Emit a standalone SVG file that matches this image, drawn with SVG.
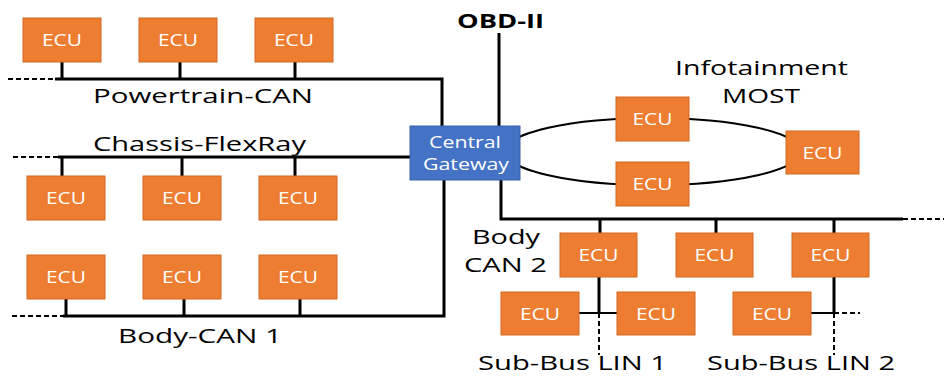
<svg xmlns="http://www.w3.org/2000/svg" width="944" height="376" viewBox="0 0 944 376">
<style>
.ecu rect{fill:#ED7D31;stroke:#D2691E;stroke-width:1}
.ecu text{fill:#ffffff;font-family:"Open Sans","Liberation Sans",sans-serif;font-size:16px;text-anchor:middle}
.lbl{fill:#000;font-family:"Open Sans","Liberation Sans",sans-serif;font-size:20px}
.bus{stroke:#000;stroke-width:3;fill:none}
.thin{stroke:#000;stroke-width:2;fill:none}
.dash{stroke:#000;stroke-width:2;fill:none;stroke-dasharray:5,3}
</style>
<rect width="944" height="376" fill="#fff"/>
<g id="connectors">
<!-- Powertrain-CAN -->
<path class="dash" d="M8 79H55"/>
<path class="bus" d="M55 79H442V126"/>
<path class="bus" d="M62 62V79M180 62V79M295 62V79"/>
<!-- Chassis-FlexRay -->
<path class="dash" d="M13 157H58"/>
<path class="bus" d="M58 157H411"/>
<path class="bus" d="M62 157V176M182 157V176M295 157V176"/>
<!-- Body-CAN 1 -->
<path class="dash" d="M12 316H63"/>
<path class="bus" d="M63 316H444V180"/>
<path class="bus" d="M66 299V316M184 299V316M300 299V316"/>
<!-- OBD-II -->
<path class="bus" d="M499 33V126"/>
<!-- MOST ring -->
<ellipse class="thin" cx="653" cy="151.5" rx="148" ry="33.5"/>
<!-- Body CAN 2 -->
<path class="bus" d="M501 180V219H903"/>
<path class="dash" d="M903 219H944"/>
<path class="bus" d="M600 219V233M716 219V233M834 219V233"/>
<!-- LIN 1 -->
<path class="bus" d="M599 277V313"/>
<path class="dash" d="M599 313V355"/>
<path class="thin" d="M579 313H617"/>
<!-- LIN 2 -->
<path class="bus" d="M834 277V313"/>
<path class="dash" d="M834 313V355"/>
<path class="thin" d="M811 313H834"/>
<path class="dash" d="M834 313H860"/>
</g>
<g id="gateway">
<rect x="410" y="126" width="110" height="54" fill="#4472C4" stroke="#3A62A8" stroke-width="1"/>
<text x="465" y="148" fill="#fff" font-family="'Open Sans','Liberation Sans',sans-serif" font-size="17" text-anchor="middle" textLength="72" lengthAdjust="spacingAndGlyphs">Central</text>
<text x="466" y="170" fill="#fff" font-family="'Open Sans','Liberation Sans',sans-serif" font-size="17" text-anchor="middle" textLength="86" lengthAdjust="spacingAndGlyphs">Gateway</text>
</g>
<g id="pt-ecu1" class="ecu"><rect x="23" y="18" width="78" height="44"/><text x="62" y="46" textLength="40" lengthAdjust="spacingAndGlyphs">ECU</text></g>
<g id="pt-ecu2" class="ecu"><rect x="139" y="18" width="78" height="44"/><text x="178" y="46" textLength="40" lengthAdjust="spacingAndGlyphs">ECU</text></g>
<g id="pt-ecu3" class="ecu"><rect x="255" y="18" width="78" height="44"/><text x="294" y="46" textLength="40" lengthAdjust="spacingAndGlyphs">ECU</text></g>
<g id="ch-ecu1" class="ecu"><rect x="27" y="176" width="78" height="44"/><text x="66" y="204" textLength="40" lengthAdjust="spacingAndGlyphs">ECU</text></g>
<g id="ch-ecu2" class="ecu"><rect x="143" y="176" width="78" height="44"/><text x="182" y="204" textLength="40" lengthAdjust="spacingAndGlyphs">ECU</text></g>
<g id="ch-ecu3" class="ecu"><rect x="259" y="176" width="78" height="44"/><text x="298" y="204" textLength="40" lengthAdjust="spacingAndGlyphs">ECU</text></g>
<g id="b1-ecu1" class="ecu"><rect x="27" y="255" width="78" height="44"/><text x="66" y="283" textLength="40" lengthAdjust="spacingAndGlyphs">ECU</text></g>
<g id="b1-ecu2" class="ecu"><rect x="143" y="255" width="78" height="44"/><text x="182" y="283" textLength="40" lengthAdjust="spacingAndGlyphs">ECU</text></g>
<g id="b1-ecu3" class="ecu"><rect x="259" y="255" width="78" height="44"/><text x="298" y="283" textLength="40" lengthAdjust="spacingAndGlyphs">ECU</text></g>
<g id="most-ecu1" class="ecu"><rect x="616" y="97" width="73" height="44"/><text x="652.5" y="125" textLength="40" lengthAdjust="spacingAndGlyphs">ECU</text></g>
<g id="most-ecu2" class="ecu"><rect x="616" y="162" width="73" height="44"/><text x="652.5" y="190" textLength="40" lengthAdjust="spacingAndGlyphs">ECU</text></g>
<g id="most-ecu3" class="ecu"><rect x="786" y="131" width="73" height="43"/><text x="822.5" y="159" textLength="40" lengthAdjust="spacingAndGlyphs">ECU</text></g>
<g id="b2-ecu1" class="ecu"><rect x="560" y="233" width="77" height="44"/><text x="598.5" y="261" textLength="40" lengthAdjust="spacingAndGlyphs">ECU</text></g>
<g id="b2-ecu2" class="ecu"><rect x="676" y="233" width="77" height="44"/><text x="714.5" y="261" textLength="40" lengthAdjust="spacingAndGlyphs">ECU</text></g>
<g id="b2-ecu3" class="ecu"><rect x="792" y="233" width="77" height="44"/><text x="830.5" y="261" textLength="40" lengthAdjust="spacingAndGlyphs">ECU</text></g>
<g id="lin1-ecu1" class="ecu"><rect x="501" y="292" width="78" height="43"/><text x="540" y="320" textLength="40" lengthAdjust="spacingAndGlyphs">ECU</text></g>
<g id="lin1-ecu2" class="ecu"><rect x="617" y="292" width="78" height="43"/><text x="656" y="320" textLength="40" lengthAdjust="spacingAndGlyphs">ECU</text></g>
<g id="lin2-ecu1" class="ecu"><rect x="733" y="292" width="78" height="43"/><text x="772" y="320" textLength="40" lengthAdjust="spacingAndGlyphs">ECU</text></g>
<g id="labels">
<text class="lbl" x="93" y="103" textLength="220" lengthAdjust="spacingAndGlyphs">Powertrain-CAN</text>
<text class="lbl" x="93" y="151" textLength="213" lengthAdjust="spacingAndGlyphs">Chassis-FlexRay</text>
<text class="lbl" x="118" y="343" textLength="164" lengthAdjust="spacingAndGlyphs">Body-CAN 1</text>
<text class="lbl" x="457" y="28" font-weight="bold" textLength="87" lengthAdjust="spacingAndGlyphs">OBD-II</text>
<text class="lbl" x="675" y="75" textLength="173" lengthAdjust="spacingAndGlyphs">Infotainment</text>
<text class="lbl" x="722" y="103" textLength="78" lengthAdjust="spacingAndGlyphs">MOST</text>
<text class="lbl" x="472" y="244" textLength="68" lengthAdjust="spacingAndGlyphs">Body</text>
<text class="lbl" x="464" y="272" textLength="83" lengthAdjust="spacingAndGlyphs">CAN 2</text>
<text class="lbl" x="478" y="370" textLength="189" lengthAdjust="spacingAndGlyphs">Sub-Bus LIN 1</text>
<text class="lbl" x="707" y="370" textLength="188" lengthAdjust="spacingAndGlyphs">Sub-Bus LIN 2</text>
</g>
</svg>
